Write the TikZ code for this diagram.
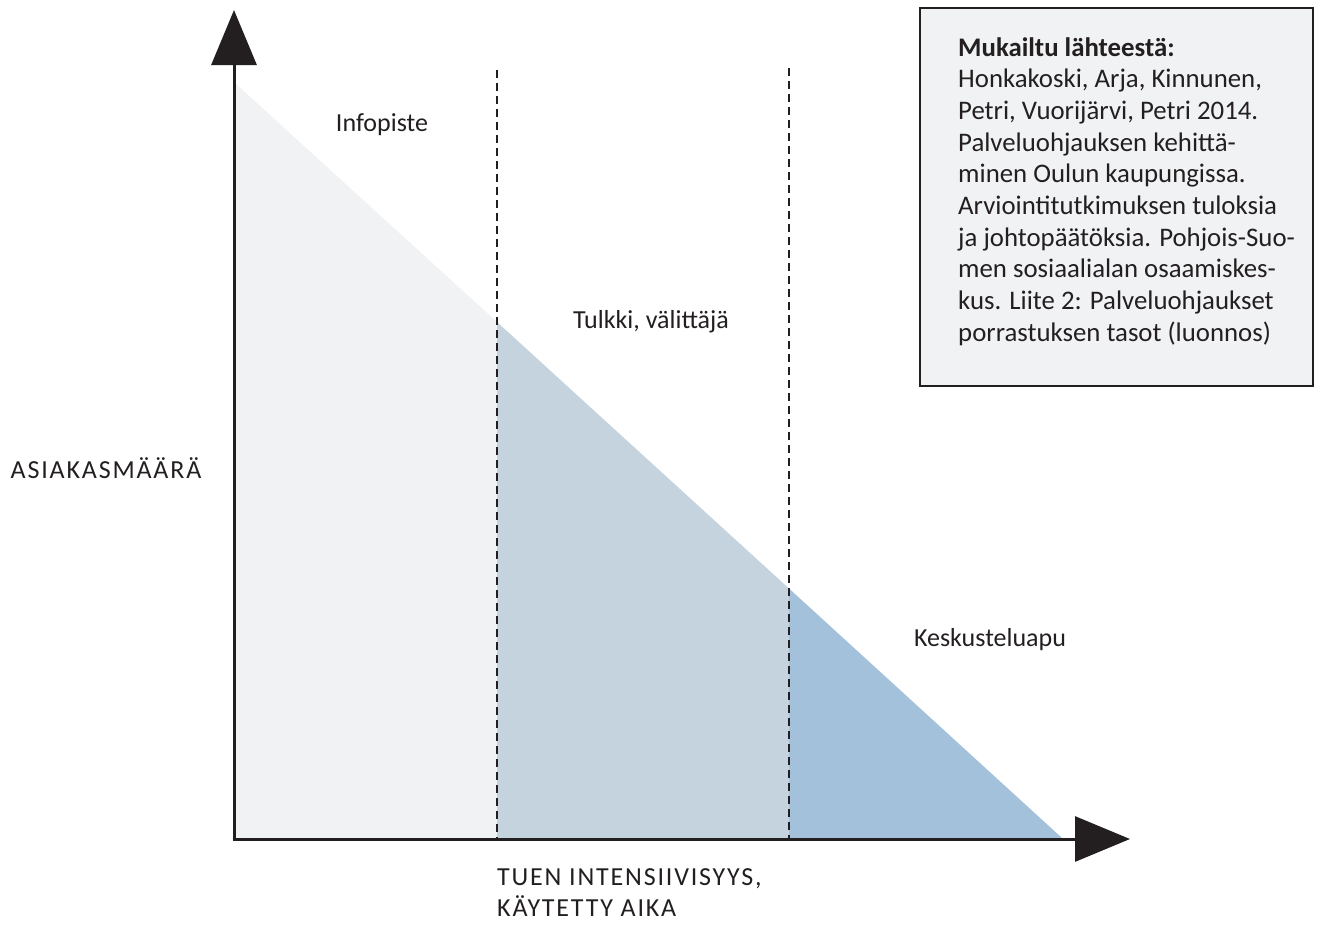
\documentclass[tikz,border=0pt]{standalone}
\usepackage{fontspec}
\setmainfont{Carlito}
\newfontfamily\capsfont[LetterSpace=7]{Carlito}
\usetikzlibrary{arrows.meta}
\definecolor{axiscol}{HTML}{231F20}
\definecolor{lightfill}{HTML}{F1F2F4}
\definecolor{midfill}{HTML}{C5D3DF}
\definecolor{darkfill}{HTML}{A3C1DA}
\tikzset{
  axisline/.style={draw=axiscol, line width=3pt},
  bigtip/.style={-{Triangle[length=55pt,width=45pt]}},
  divider/.style={draw=axiscol, line width=2.8pt, dash pattern=on 8pt off 5pt},
  lbl/.style={inner sep=0pt, text=axiscol, font=\fontsize{26}{31.7}\selectfont},
  caplbl/.style={inner sep=0pt, text=axiscol, font=\fontsize{26}{31}\selectfont\capsfont},
  srclbl/.style={inner sep=0pt, text=axiscol, font=\fontsize{26.8}{31.7}\selectfont},
  srcbox/.style={draw=axiscol, line width=2.2pt, fill=lightfill}
}
\begin{document}
\begin{tikzpicture}[x=1pt,y=-1pt]
\useasboundingbox (0,0) rectangle (1320,924);
% key points
\coordinate (O) at (234,839);
\coordinate (ytop) at (234,10);
\coordinate (xend) at (1130,839);
\coordinate (t0) at (236,84);
\coordinate (t1) at (497,322);
\coordinate (t2) at (789,588.5);
\coordinate (t3) at (1062,838);
\coordinate (b1) at (497,838);
\coordinate (b2) at (789,838);
\coordinate (b0) at (236,838);
\coordinate (d1top) at (497,70);
\coordinate (d2top) at (789,68);
% fills
\fill[lightfill] (t0) -- (t1) -- (b1) -- (b0) -- cycle;
\fill[midfill] (t1) -- (t2) -- (b2) -- (b1) -- cycle;
\fill[darkfill] (t2) -- (t3) -- (b2) -- cycle;
% dividers
\draw[divider] (d1top) -- (b1);
\draw[divider] (d2top) -- (b2);
% axes
\draw[axisline, bigtip, fill=axiscol] (O) -- (ytop);
\draw[axisline, bigtip, fill=axiscol] ([xshift=-1.5pt]O) -- (xend);
% labels
\node[lbl] (info) at (382,125) {Infopiste};
\node[lbl] (tulkki) at (651,322) {Tulkki, välittäjä};
\node[lbl] (kesk) at (990,640) {Keskusteluapu};
\node[caplbl] (ylab) at (106,468) {ASIAKASMÄÄRÄ};
\node[caplbl, anchor=north west, align=left] (xlab) at (497,868) {TUEN INTENSIIVISYYS,\\KÄYTETTY AIKA};
% source box
\draw[srcbox] (920,8) rectangle (1313,386);
\node[srclbl, anchor=north west, align=left] (src) at (958,37) {\textbf{Mukailtu lähteestä:}\\
Honkakoski, Arja, Kinnunen,\\
Petri, Vuorijärvi, Petri 2014.\\
Palveluohjauksen kehittä-\\
minen Oulun kaupungissa.\\
Arviointitutkimuksen tuloksia\\
ja johtopäätöksia. Pohjois-Suo-\\
men sosiaalialan osaamiskes-\\
kus. Liite 2: Palveluohjaukset\\
porrastuksen tasot (luonnos)};
\end{tikzpicture}
\end{document}
